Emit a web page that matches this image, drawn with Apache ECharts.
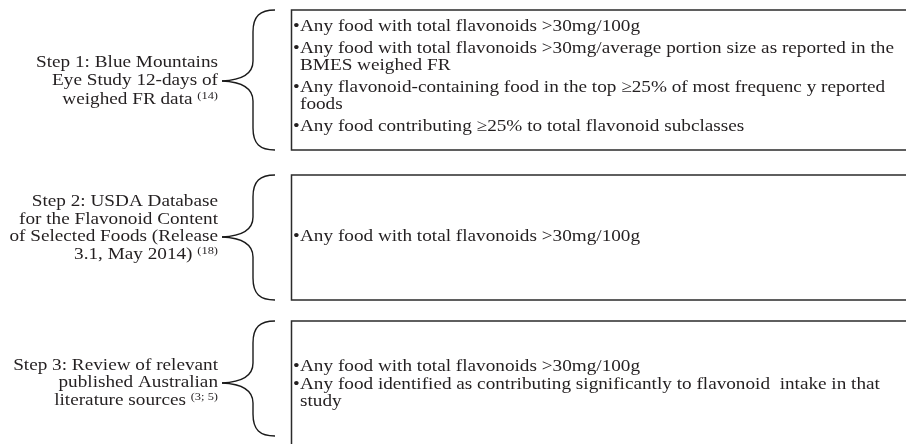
<!DOCTYPE html>
<html>
<head>
<meta charset="UTF-8">
<title>Flavonoid food selection</title>
<script src="https://cdn.jsdelivr.net/npm/echarts@6/dist/echarts.min.js"></script>
<style>
html, body { margin: 0; padding: 0; background: #fff; }
#main { width: 906px; height: 444px; }
</style>
</head>
<body>
<div id="main"></div>
<script>
// step labels (left side), one array per step
var stepLines = [
    ['Step 1: Blue Mountains', 'Eye Study 12-days of', 'weighed FR data'],
    ['Step 2: USDA Database', 'for the Flavonoid Content', 'of Selected Foods (Release', '3.1, May 2014)'],
    ['Step 3: Review of relevant', 'published Australian', 'literature sources']
];
var stepRefs = ['(14)', '(18)', '(3; 5)'];
// which label line the brace points at
var tipLine = [1, 2, 1];

// criteria in each box: bullets, each bullet a list of wrapped lines
var criteria = [
    [
        ['Any food with total flavonoids >30mg/100g'],
        ['Any food with total flavonoids >30mg/average portion size as reported in the', 'BMES weighed FR'],
        ['Any flavonoid-containing food in the top \u226525% of most frequenc y reported', 'foods'],
        ['Any food contributing \u226525% to total flavonoid subclasses']
    ],
    [
        ['Any food with total flavonoids >30mg/100g']
    ],
    [
        ['Any food with total flavonoids >30mg/100g'],
        ['Any food identified as contributing significantly to flavonoid  intake in that', 'study']
    ]
];

var myChart = echarts.init(document.getElementById('main'));

var font = 'Liberation Serif';
var textColor = '#231f20';
var fs = 17;
var stretch = 1.13;
// layout of each row (box edges, brace tip, label line step, first text line, bullet spacing)
var rows = [
    {top: 10, bottom: 150, tip: 81, lh: 18.5, first: 27, gap: 22},
    {top: 175, bottom: 300, tip: 237, lh: 17.5, first: 237, gap: 20},
    {top: 321, bottom: 490, tip: 383, lh: 17.5, first: 367, gap: 18}
];

var elements = [];
var braceStyle = {fill: 'none', stroke: '#1a1a1a', lineWidth: 1.4};

function curve(x1, y1, c1x, c1y, c2x, c2y, x2, y2) {
    return {
        type: 'bezierCurve',
        shape: {x1: x1, y1: y1, cpx1: c1x, cpy1: c1y, cpx2: c2x, cpy2: c2y, x2: x2, y2: y2},
        style: braceStyle
    };
}
function seg(x1, y1, x2, y2) {
    return {type: 'line', shape: {x1: x1, y1: y1, x2: x2, y2: y2}, style: braceStyle};
}
function label(x, y, text, align, rich) {
    return {
        type: 'text', x: x, y: y, scaleX: stretch,
        style: {
            text: text,
            font: fs + 'px ' + font,
            fill: textColor,
            align: align,
            verticalAlign: 'middle',
            rich: rich
        }
    };
}

rows.forEach(function (r, i) {
    // box
    elements.push({
        type: 'rect',
        shape: {x: 291.5, y: r.top, width: 700, height: r.bottom - r.top},
        style: {fill: 'none', stroke: '#2b2b2b', lineWidth: 1.5}
    });

    // curly brace
    var t = r.top, m = r.tip, b = Math.min(r.bottom, 436);
    elements.push(curve(275, t, 260, t, 253, t + 6, 253, t + 22));
    elements.push(seg(253, t + 22, 253, m - 20));
    elements.push(curve(253, m - 20, 253, m - 8, 244, m - 1, 222, m));
    elements.push(curve(222, m, 244, m + 1, 253, m + 8, 253, m + 20));
    elements.push(seg(253, m + 20, 253, b - 22));
    elements.push(curve(253, b - 22, 253, b - 6, 260, b, 275, b));

    // step label
    var lines = stepLines[i];
    lines.forEach(function (ln, k) {
        var last = k === lines.length - 1;
        elements.push(label(218, r.tip + (k - tipLine[i]) * r.lh,
            last ? ln + ' {sup|' + stepRefs[i] + '}' : ln, 'right',
            {sup: {fontSize: 11, fontFamily: font, fill: textColor, padding: [0, 0, 7, 0]}}));
    });

    // bullets
    var y = r.first;
    criteria[i].forEach(function (item, j) {
        if (j > 0) y += r.gap - 17;
        elements.push(label(293, y, '\u2022', 'left'));
        item.forEach(function (ln, k) {
            if (k > 0) y += 17;
            elements.push(label(300, y, ln, 'left'));
        });
        y += 17;
    });
});

var option = {
    backgroundColor: '#fff',
    animation: false,
    graphic: {elements: elements}
};

myChart.setOption(option);
</script>
</body>
</html>
